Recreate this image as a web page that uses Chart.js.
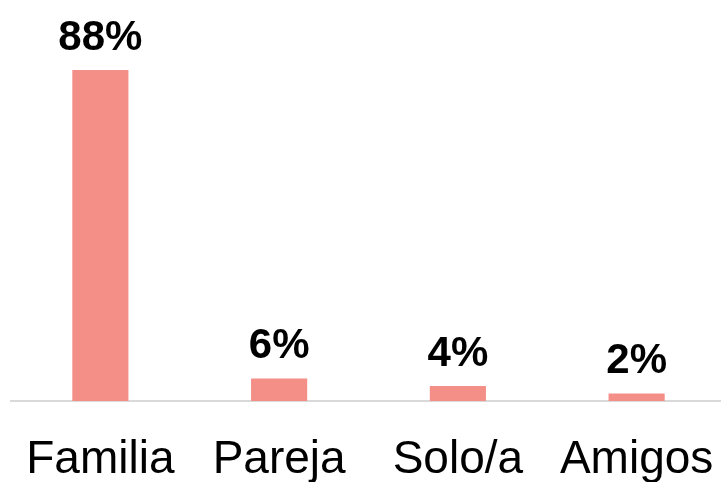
<!DOCTYPE html>
<html>
<head>
<meta charset="utf-8">
<script src="https://cdn.jsdelivr.net/npm/chart.js@4"></script>
<style>
  html, body { margin: 0; padding: 0; background: #fff; overflow: hidden; }
  #wrap { width: 726px; height: 482px; }
</style>
</head>
<body>
<div id="wrap"><canvas id="chart"></canvas></div>
<script>
// ─── DATA ─────────────────────────────────────────
const categories = ['Familia', 'Pareja', 'Solo/a', 'Amigos'];
const shares = [88, 6, 4, 2];   // % of respondents

const FONT = "'Liberation Sans', Arial, sans-serif";
const BAR = '#f38f87';

// value labels above each bar
const valueLabels = {
  id: 'valueLabels',
  afterDatasetsDraw(chart) {
    const { ctx } = chart;
    const meta = chart.getDatasetMeta(0);
    ctx.save();
    ctx.font = 'bold 42px ' + FONT;
    ctx.fillStyle = '#000';
    ctx.textAlign = 'center';
    ctx.textBaseline = 'alphabetic';
    meta.data.forEach((bar, i) => {
      ctx.fillText(shares[i] + '%', bar.x, bar.y - 20);
    });
    ctx.restore();
  }
};

new Chart(document.getElementById('chart'), {
  type: 'bar',
  data: {
    labels: categories,
    datasets: [{
      data: shares,
      backgroundColor: BAR,
      barPercentage: 0.314,
      categoryPercentage: 1,
    }],
  },
  options: {
    responsive: true,
    maintainAspectRatio: false,
    animation: false,
    layout: { autoPadding: false, padding: { top: 25, left: 11, right: 0, bottom: 0 } },
    plugins: { legend: { display: false }, tooltip: { enabled: false } },
    scales: {
      x: {
        grid: { display: false, drawTicks: false },
        border: { display: true, color: '#d9d9d9', width: 2 },
        ticks: {
          color: '#000',
          font: { family: FONT, size: 46 },
          padding: 32,
          maxRotation: 0,
          autoSkip: false,
        },
        afterFit: s => {
          s.height = 81;
          s.paddingLeft = 0;
          s.paddingRight = 0;
        },
      },
      y: {
        display: false,
        min: 0,
        max: 100,
      },
    },
  },
  plugins: [valueLabels],
});
</script>
</body>
</html>
